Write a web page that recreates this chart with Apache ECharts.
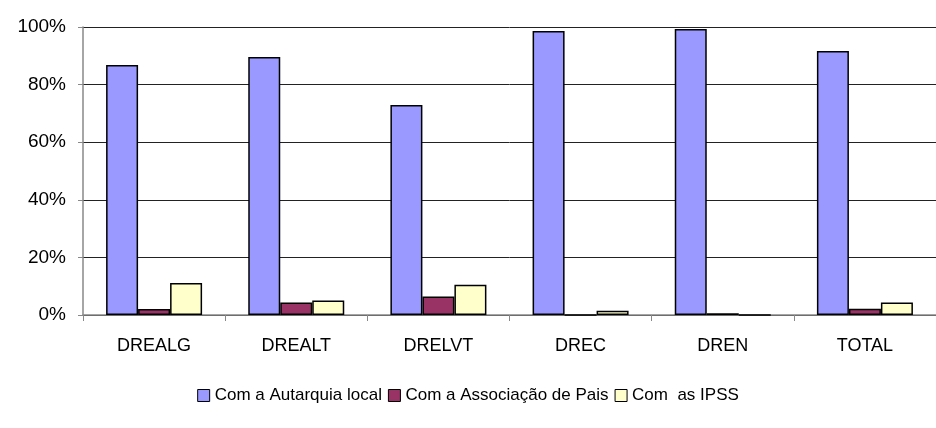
<!DOCTYPE html>
<html><head><meta charset="utf-8">
<script src="https://cdn.jsdelivr.net/npm/echarts@6/dist/echarts.min.js"></script>
<style>html,body{margin:0;padding:0;background:#fff}#c{width:936px;height:428px}</style>
</head><body><div id="c"></div>
<script>
const categories = ['DREALG','DREALT','DRELVT','DREC','DREN','TOTAL'];
const autarquia = [86.8, 89.6, 72.9, 98.6, 99.3, 91.7];
const associacao = [2.1, 4.3, 6.4, 0, 0.6, 2.2];
const ipss = [11.1, 5.0, 10.5, 1.5, 0, 4.3];
const seriesNames = ['Com a Autarquia local', 'Com a Associação de Pais', 'Com  as IPSS'];
const yTicks = [0, 20, 40, 60, 80, 100];

const font = 'Liberation Sans, Arial, sans-serif';
const colors = ['#9999FF', '#993366', '#FFFFCC'];
const chart = echarts.init(document.getElementById('c'));
const mk = (name, data, i) => ({
  name, type: 'bar', data, barWidth: 32, barGap: '0%',
  itemStyle: { color: colors[i], borderColor: '#000', borderWidth: 1.5 },
  emphasis: { disabled: true }
});
chart.setOption({
  animation: false,
  grid: { left: 83, right: -10, top: 27, bottom: 113, containLabel: false },
  legend: {
    bottom: 19, left: 'center', itemWidth: 12, itemHeight: 12, itemGap: 6,
    textStyle: { fontFamily: font, fontSize: 17, color: '#000' },
    itemStyle: { borderColor: '#000', borderWidth: 1 },
    data: seriesNames.map(n => ({ name: n, icon: 'rect' }))
  },
  xAxis: {
    type: 'category', data: categories,
    axisLine: { lineStyle: { color: '#888', width: 1.5 } },
    axisTick: { show: true, length: 6, lineStyle: { color: '#888' } },
    axisLabel: { fontFamily: font, fontSize: 18, color: '#000', margin: 22 }
  },
  yAxis: {
    type: 'value', min: 0, max: 100, interval: 20,
    axisLine: { show: true, lineStyle: { color: '#888', width: 1.5 } },
    axisTick: { show: true, length: 5, lineStyle: { color: '#888' } },
    splitLine: { lineStyle: { color: '#222', width: 1 } },
    axisLabel: { fontFamily: font, fontSize: 19, color: '#000', margin: 17,
      formatter: v => yTicks.includes(v) ? v + '%' : '' }
  },
  series: [mk(seriesNames[0], autarquia, 0), mk(seriesNames[1], associacao, 1), mk(seriesNames[2], ipss, 2)]
});
</script></body></html>
